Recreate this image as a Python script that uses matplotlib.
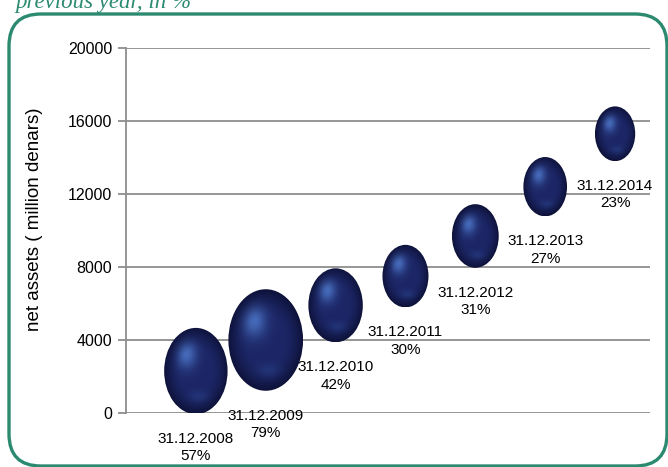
import numpy as np
import matplotlib.pyplot as plt
from matplotlib.patches import Ellipse, FancyBboxPatch

# data
dates = ["31.12.2008", "31.12.2009", "31.12.2010", "31.12.2011",
         "31.12.2012", "31.12.2013", "31.12.2014"]
net_assets = [2300, 4000, 5900, 7500, 9700, 12400, 15300]
growth = [57, 79, 42, 30, 31, 27, 23]
positions = [1, 2, 3, 4, 5, 6, 7]
yticks = [0, 4000, 8000, 12000, 16000, 20000]

sans = ["Liberation Sans", "DejaVu Sans"]
green = "#2b8a70"
grid_c = "#8e8e8e"

fig = plt.figure(figsize=(6.68, 4.67), dpi=100)
ax = fig.add_axes([126 / 668, 54 / 467, (650 - 126) / 668, 365 / 467])
ax.set_autoscale_on(False)
ax.set_xlim(0.0, 7.5)
ax.set_ylim(0, 20000)

ax.set_yticks(yticks)
ax.set_yticklabels([str(t) for t in yticks], family=sans, fontsize=11.5)
ax.set_xticks([])
ax.tick_params(axis="y", direction="out", length=6, width=1.3, color=grid_c, pad=4)
ax.yaxis.grid(True, color=grid_c, lw=1.3)
ax.set_axisbelow(True)
for s in ["top", "right", "bottom"]:
    ax.spines[s].set_visible(False)
ax.spines["left"].set_color(grid_c)
ax.spines["left"].set_linewidth(1.3)
ax.set_ylabel("net assets ( million denars)", family=sans, fontsize=13.5)
ax.yaxis.set_label_coords(-0.158, 0.53)


def sphere_image(n=200):
    u, v = np.meshgrid(np.linspace(-1, 1, n), np.linspace(1, -1, n))
    d = np.sqrt((u + 0.3) ** 2 + (v - 0.38) ** 2)
    rim = np.sqrt(u ** 2 + v ** 2)
    base = np.array([0.11, 0.15, 0.40])
    light = np.array([0.30, 0.46, 0.78])
    dark = np.array([0.04, 0.05, 0.18])
    refl = np.array([0.17, 0.28, 0.58])
    tl = (0.85 * np.exp(-(d / 0.32) ** 2))[..., None]
    td = (np.clip((rim - 0.5) / 0.5, 0, 1) ** 1.5)[..., None]
    tr = (0.5 * np.exp(-((u - 0.1) ** 2 / 0.12 + (v + 0.62) ** 2 / 0.02)))[..., None]
    c = base * (1 - tl) + light * tl
    c = c * (1 - tr) + refl * tr
    c = c * (1 - 0.8 * td) + dark * 0.8 * td
    return np.clip(c, 0, 1)


img = sphere_image()
px_x = ax.bbox.width / 7.5
px_y = ax.bbox.height / 20000

# bubble area follows the growth rate
for xi, yi, g, lab in zip(positions, net_assets, growth, dates):
    w_px = 8.4 * np.sqrt(g)
    h_px = 1.36 * w_px
    w = w_px / px_x
    h = h_px / px_y
    ell = Ellipse((xi, yi), w, h, fc="none", ec="none", zorder=3)
    ax.add_patch(ell)
    im = ax.imshow(img, extent=[xi - w / 2, xi + w / 2, yi - h / 2, yi + h / 2],
                   aspect="auto", zorder=3, interpolation="bilinear")
    im.set_clip_path(ell)
    ax.annotate(f"{lab}\n{g}%", (xi, yi), xytext=(0, -(h_px / 2 + 18)),
                textcoords="offset pixels", ha="center", va="top",
                family=sans, fontsize=11, linespacing=1.3, zorder=4,
                annotation_clip=False)

ax.set_xlim(0.0, 7.5)
ax.set_ylim(0, 20000)

frame = FancyBboxPatch((0.09, 0.01), 6.58, 4.52, boxstyle="round,pad=0,rounding_size=0.32",
                       transform=fig.dpi_scale_trans, fc="none", ec=green, lw=2.4)
fig.patches.append(frame)

fig.text(15 / 668, 1 - 8 / 467, "previous year, in %", color=green, fontsize=16.5,
         style="italic", family=["Liberation Serif", "DejaVu Serif"], va="baseline")

fig.savefig("out.png", dpi=100)
